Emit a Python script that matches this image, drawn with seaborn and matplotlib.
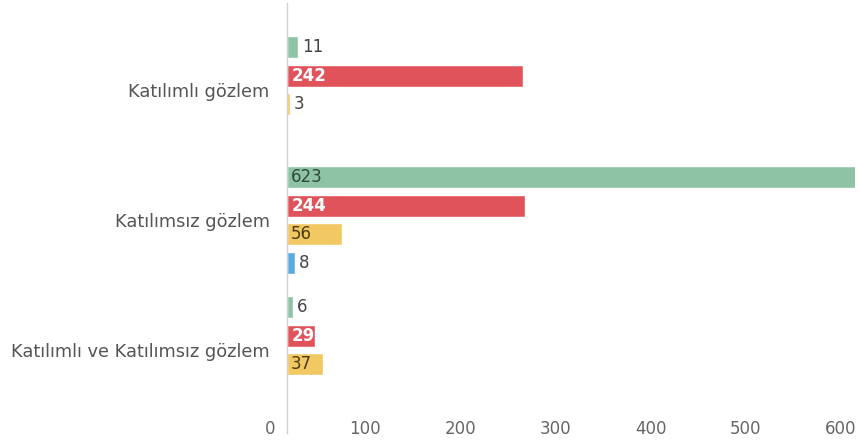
import matplotlib
matplotlib.use("Agg")
import matplotlib.pyplot as plt
import seaborn as sns
import pandas as pd

# Data
categories = ["Katılımlı gözlem", "Katılımsız gözlem", "Katılımlı ve Katılımsız gözlem"]
series = ["Seri 1", "Seri 2", "Seri 3", "Seri 4"]
green_vals = [11, 623, 6]
red_vals = [242, 244, 29]
yellow_vals = [3, 56, 37]
blue_vals = [None, 8, None]
x_ticks = [0, 100, 200, 300, 400, 500, 600]

colors = ["#8fc3a6", "#e0535b", "#f1c862", "#5aabe0"]
label_colors = ["#2f4a3c", "#ffffff", "#4a3b12", "#333333"]

rows = []
for s, vals in zip(series, [green_vals, red_vals, yellow_vals, blue_vals]):
    for c, v in zip(categories, vals):
        if v is not None:
            rows.append({"kategori": c, "seri": s, "deger": v})
df = pd.DataFrame(rows)

sns.set_style("white")
plt.rcParams["font.family"] = ["DejaVu Sans"]

W, H = 862, 441
fig = plt.figure(figsize=(W / 100, H / 100), dpi=100)
ax = fig.add_axes([287 / W, 1 - 433 / H, (855 - 287) / W, (433 - 3) / H])

sns.barplot(data=df, y="kategori", x="deger", hue="seri", order=categories,
            hue_order=series, palette=colors, orient="h", width=0.877, gap=0.23,
            saturation=1, legend=False, ax=ax)

ax.set_xlim(0, 583)
ax.set_ylim(2.64, -0.67)
ax.set_xlabel("")
ax.set_ylabel("")
ax.set_xticks([])
for sp in ["top", "right", "bottom"]:
    ax.spines[sp].set_visible(False)
ax.spines["left"].set_color("#d0d0d0")
ax.spines["left"].set_linewidth(1)
ax.tick_params(axis="y", length=0, pad=12.5, labelsize=12.8, labelcolor="#555555")

# value labels
for i, cont in enumerate(ax.containers):
    for bar in cont:
        v = bar.get_width()
        if v != v:
            continue
        yc = bar.get_y() + bar.get_height() / 2
        if v >= 20:
            ax.annotate(f"{int(v)}", (0, yc), xytext=(3, 0), textcoords="offset points",
                        va="center", ha="left", fontsize=12,
                        color=label_colors[i], fontweight="bold" if i == 1 else "normal")
        else:
            ax.annotate(f"{int(v)}", (v, yc), xytext=(3, 0), textcoords="offset points",
                        va="center", ha="left", fontsize=12, color="#444444")

# bottom value scale
ax2 = fig.add_axes([270 / W, 1 - 420 / H, 590 / W, 0.0001])
ax2.set_xlim(0, 620)
ax2.set_xticks(x_ticks)
ax2.set_xticklabels([str(t) for t in x_ticks])
ax2.set_yticks([])
for sp in ax2.spines.values():
    sp.set_visible(False)
ax2.tick_params(axis="x", length=0, pad=0, labelsize=12, labelcolor="#666666")
ax2.patch.set_alpha(0)

fig.savefig("out.png", dpi=100)
